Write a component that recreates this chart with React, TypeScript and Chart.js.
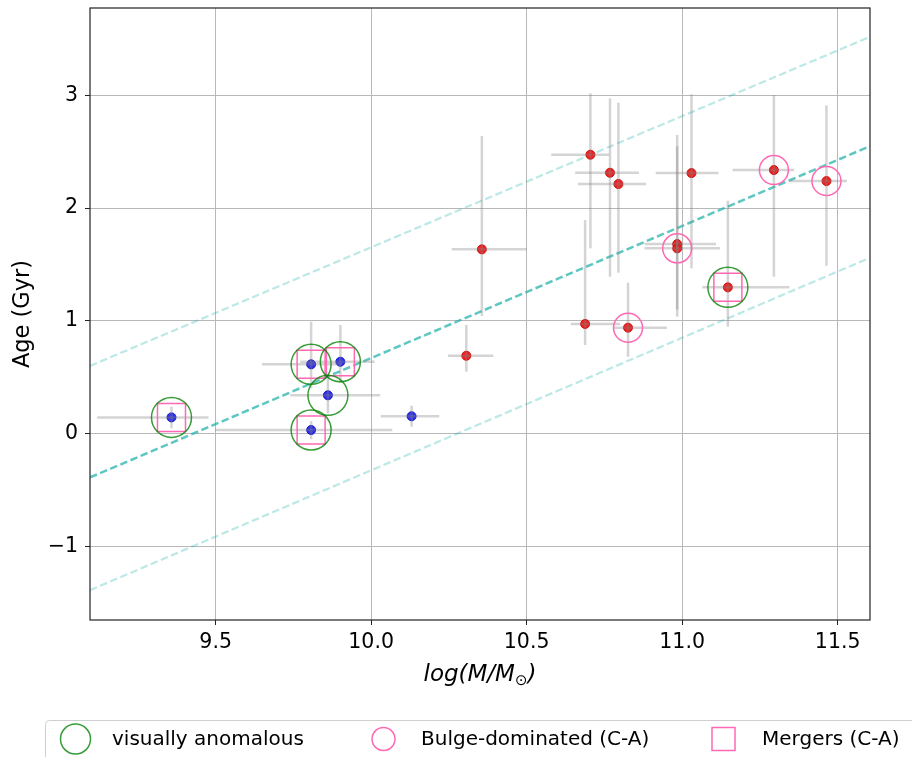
import React, { useEffect, useRef } from 'react';
import { Chart, registerables } from 'chart.js';

Chart.register(...registerables);

// Axis limits and tick positions
const massRange = [9.096, 11.604];
const ageRange = [-1.655, 3.776];
const massTicks = [9.5, 10.0, 10.5, 11.0, 11.5];
const ageTicks = [-1, 0, 1, 2, 3];

// Blue sample: stellar mass, age and error-bar bounds
const blueMass = [9.358, 9.807, 9.901, 9.861, 9.807, 10.13];
const blueAge = [0.143, 0.614, 0.637, 0.339, 0.031, 0.153];
const blueMassLo = [9.119, 9.649, 9.772, 9.74, 9.498, 10.031];
const blueMassHi = [9.477, 9.907, 10.011, 10.029, 10.068, 10.219];
const blueAgeLo = [0.046, 0.4, 0.45, 0.179, -0.05, 0.06];
const blueAgeHi = [0.238, 0.992, 0.963, 0.51, 0.11, 0.247];

// Red sample
const redMass = [10.306, 10.356, 10.688, 10.826, 10.705, 10.768, 10.795, 10.984, 10.984, 11.03, 11.147, 11.295, 11.464];
const redAge = [0.69, 1.634, 0.972, 0.939, 2.474, 2.314, 2.214, 1.681, 1.643, 2.311, 1.297, 2.338, 2.24];
const redMassLo = [10.247, 10.259, 10.642, 10.781, 10.579, 10.656, 10.665, 10.879, 10.879, 10.915, 11.065, 11.162, 11.347];
const redMassHi = [10.393, 10.501, 10.8, 10.951, 10.765, 10.861, 10.884, 11.109, 11.122, 11.117, 11.345, 11.36, 11.53];
const redAgeLo = [0.549, 1.043, 0.785, 0.681, 1.643, 1.391, 1.427, 1.036, 1.1, 1.466, 0.948, 1.391, 1.489];
const redAgeHi = [0.963, 2.64, 1.894, 1.338, 3.019, 2.974, 2.935, 2.649, 2.55, 3.01, 2.066, 3.004, 2.912];

// Flagged galaxies (indices into the samples above)
const anomalousBlue = [0, 1, 2, 3, 4];
const anomalousRed = [10];
const bulgeRed = [3, 8, 11, 12];
const mergerBlue = [0, 1, 2, 4];
const mergerRed = [10];

// Relation and its ±1 Gyr band, sampled at the axis limits
const relationMass = [9.096, 11.604];
const relationAge = [-0.39, 2.55];
const upperAge = [0.6, 3.52];
const lowerAge = [-1.39, 1.56];

const legendLabels = ['visually anomalous', 'Bulge-dominated (C-A)', 'Mergers (C-A)'];

const FONT = "'DejaVu Sans', sans-serif";
const GREEN = 'rgba(0,128,0,0.78)';
const PINK = '#ff69b4';

const pts = (xs: number[], ys: number[]) => xs.map((x, i) => ({ x, y: ys[i] }));
const pick = (xs: number[], ys: number[], idx: number[]) => idx.map((i) => ({ x: xs[i], y: ys[i] }));

function drawErrorBars(chart: Chart) {
  const { ctx, chartArea } = chart;
  const x = chart.scales.x;
  const y = chart.scales.y;
  ctx.save();
  ctx.beginPath();
  ctx.rect(chartArea.left, chartArea.top, chartArea.right - chartArea.left, chartArea.bottom - chartArea.top);
  ctx.clip();
  ctx.strokeStyle = 'rgba(128,128,128,0.34)';
  ctx.lineWidth = 2.5;
  const sets = [
    [blueMass, blueAge, blueMassLo, blueMassHi, blueAgeLo, blueAgeHi],
    [redMass, redAge, redMassLo, redMassHi, redAgeLo, redAgeHi],
  ];
  for (const [m, a, mLo, mHi, aLo, aHi] of sets) {
    for (let i = 0; i < m.length; i++) {
      const px = x.getPixelForValue(m[i]);
      const py = y.getPixelForValue(a[i]);
      ctx.beginPath();
      ctx.moveTo(x.getPixelForValue(mLo[i]), py);
      ctx.lineTo(x.getPixelForValue(mHi[i]), py);
      ctx.stroke();
      ctx.beginPath();
      ctx.moveTo(px, y.getPixelForValue(aLo[i]));
      ctx.lineTo(px, y.getPixelForValue(aHi[i]));
      ctx.stroke();
    }
  }
  ctx.restore();
}

function drawMassTitle(chart: Chart) {
  const { ctx, chartArea } = chart;
  const cx = (chartArea.left + chartArea.right) / 2;
  const base = 681;
  const main = `italic 23px ${FONT}`;
  const sub = `15px ${FONT}`;
  ctx.save();
  ctx.fillStyle = '#000';
  ctx.textBaseline = 'alphabetic';
  ctx.textAlign = 'left';
  ctx.font = main;
  const w1 = ctx.measureText('log(M/M').width;
  const w3 = ctx.measureText(')').width;
  ctx.font = sub;
  const w2 = ctx.measureText('\u2299').width;
  let xPos = cx - (w1 + w2 + w3) / 2;
  ctx.font = main;
  ctx.fillText('log(M/M', xPos, base);
  xPos += w1;
  ctx.font = sub;
  ctx.fillText('\u2299', xPos, base + 4);
  xPos += w2;
  ctx.font = main;
  ctx.fillText(')', xPos, base);
  ctx.restore();
}

function drawLegend(chart: Chart) {
  const { ctx } = chart;
  ctx.save();
  ctx.strokeStyle = '#cfcfcf';
  ctx.lineWidth = 1;
  ctx.beginPath();
  ctx.roundRect(45.5, 720.5, 900, 60, 4);
  ctx.stroke();
  ctx.fillStyle = '#000';
  ctx.font = `20px ${FONT}`;
  ctx.textBaseline = 'middle';
  ctx.textAlign = 'left';
  const cy = 739;
  ctx.lineWidth = 1.5;
  ctx.strokeStyle = GREEN;
  ctx.beginPath();
  ctx.arc(75.5, cy, 15, 0, Math.PI * 2);
  ctx.stroke();
  ctx.fillText(legendLabels[0], 112, cy + 1);
  ctx.strokeStyle = PINK;
  ctx.beginPath();
  ctx.arc(383.5, cy, 11.5, 0, Math.PI * 2);
  ctx.stroke();
  ctx.fillText(legendLabels[1], 421, cy + 1);
  ctx.strokeRect(712, cy - 11.5, 23, 23);
  ctx.fillText(legendLabels[2], 762, cy + 1);
  ctx.restore();
}

const decorations = {
  id: 'decorations',
  afterDatasetDraw(chart: Chart, args: { index: number }) {
    if (args.index === 3) drawErrorBars(chart);
  },
  afterDraw(chart: Chart) {
    const { ctx, chartArea } = chart;
    ctx.save();
    ctx.strokeStyle = '#222';
    ctx.lineWidth = 1.2;
    ctx.strokeRect(chartArea.left, chartArea.top, chartArea.right - chartArea.left, chartArea.bottom - chartArea.top);
    ctx.restore();
    drawMassTitle(chart);
    drawLegend(chart);
  },
};

const ring = (data: { x: number; y: number }[], color: string, radius: number, style: string) => ({
  data,
  pointStyle: style,
  pointRadius: radius,
  pointHoverRadius: radius,
  pointBackgroundColor: 'rgba(0,0,0,0)',
  pointBorderColor: color,
  pointBorderWidth: 1.5,
  showLine: false,
});

const dots = (data: { x: number; y: number }[], fill: string, edge: string) => ({
  data,
  pointStyle: 'circle',
  pointRadius: 4.5,
  pointHoverRadius: 4.5,
  pointBackgroundColor: fill,
  pointBorderColor: edge,
  pointBorderWidth: 1,
  showLine: false,
});

const dashed = (ys: number[], color: string, width: number) => ({
  data: pts(relationMass, ys),
  showLine: true,
  borderColor: color,
  borderWidth: width,
  borderDash: [7.5, 3.5],
  pointRadius: 0,
  pointHoverRadius: 0,
  fill: false,
});

export default function App() {
  const ref = useRef<HTMLCanvasElement>(null);

  useEffect(() => {
    if (!ref.current) return;
    const chart = new Chart(ref.current, {
      type: 'scatter',
      data: {
        datasets: [
          ring([...pick(blueMass, blueAge, anomalousBlue), ...pick(redMass, redAge, anomalousRed)], GREEN, 20, 'circle'),
          ring(pick(redMass, redAge, bulgeRed), PINK, 14.5, 'circle'),
          ring([...pick(blueMass, blueAge, mergerBlue), ...pick(redMass, redAge, mergerRed)], PINK, 19.8, 'rect'),
          dots(pts(redMass, redAge), 'rgba(240,22,22,0.95)', 'rgba(205,0,0,0.9)'),
          dots(pts(blueMass, blueAge), 'rgba(36,36,236,0.95)', 'rgba(10,10,205,0.9)'),
          dashed(relationAge, 'rgba(32,178,170,0.72)', 2.5),
          dashed(upperAge, 'rgba(32,178,170,0.3)', 2.2),
          dashed(lowerAge, 'rgba(32,178,170,0.3)', 2.2),
        ] as any,
      },
      options: {
        animation: false,
        responsive: false,
        devicePixelRatio: 1,
        layout: { autoPadding: false, padding: { left: 0, right: 42, top: 8, bottom: 0 } },
        plugins: { legend: { display: false }, tooltip: { enabled: false } },
        events: [],
        scales: {
          x: {
            type: 'linear',
            min: massRange[0],
            max: massRange[1],
            afterBuildTicks: (scale: any) => {
              scale.ticks = massTicks.map((v) => ({ value: v }));
            },
            afterFit: (scale: any) => {
              scale.height = 137;
              scale.paddingLeft = 0;
              scale.paddingRight = 0;
            },
            grid: { color: '#b8b8b8', lineWidth: 1, tickColor: '#222', tickLength: 5, drawTicks: true },
            border: { display: false },
            ticks: {
              autoSkip: false,
              maxRotation: 0,
              padding: 5,
              color: '#000',
              font: { family: FONT, size: 20.5 },
              callback: (v: any) => Number(v).toFixed(1),
            },
            title: { display: false },
          },
          y: {
            type: 'linear',
            min: ageRange[0],
            max: ageRange[1],
            afterBuildTicks: (scale: any) => {
              scale.ticks = ageTicks.map((v) => ({ value: v }));
            },
            afterFit: (scale: any) => {
              scale.width = 90;
              scale.paddingTop = 0;
              scale.paddingBottom = 0;
            },
            grid: { color: '#b8b8b8', lineWidth: 1, tickColor: '#222', tickLength: 5, drawTicks: true },
            border: { display: false },
            ticks: {
              autoSkip: false,
              padding: 7,
              color: '#000',
              font: { family: FONT, size: 20.5 },
              callback: (v: any) => (Number(v) < 0 ? '\u2212' + Math.abs(Number(v)) : String(v)),
            },
            title: {
              display: true,
              text: 'Age (Gyr)',
              color: '#000',
              font: { family: FONT, size: 22.5 },
              padding: { top: 10, bottom: 0 },
            },
          },
        },
      },
      plugins: [decorations],
    } as any);
    return () => chart.destroy();
  }, []);

  return (
    <div style={{ position: 'fixed', left: 0, top: 0, width: 912, height: 757, background: '#fff' }}>
      <canvas ref={ref} width={912} height={757} style={{ display: 'block' }} />
    </div>
  );
}
